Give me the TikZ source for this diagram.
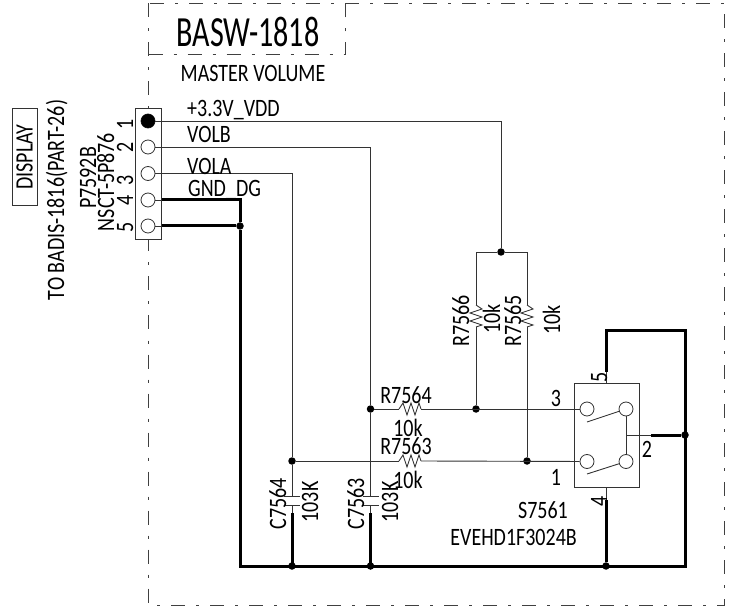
\documentclass[tikz,border=0pt]{standalone}
\usepackage{fontspec}
\setmainfont[FakeStretch=.8]{Carlito}
\newfontfamily\titlefont[FakeStretch=.7]{Carlito}
\usetikzlibrary{positioning}
\tikzset{font=\fontsize{25}{27}\selectfont}
\tikzset{wire/.style={line width=.9pt,black!80}}
\tikzset{bus/.style={line width=3pt,black}}
\tikzset{frame/.style={line width=1pt,black!75,dash pattern=on 14pt off 11pt on 3pt off 11pt}}
\tikzset{pinhole/.style={circle,draw=black!80,line width=.8pt,fill=white,minimum size=14pt,inner sep=0pt}}
\tikzset{dot/.style={circle,fill=black,minimum size=7.5pt,inner sep=0pt}}
\tikzset{lbl/.style={inner sep=0pt,anchor=base}}
\tikzset{vlbl/.style={inner sep=0pt,anchor=base,rotate=90}}
\tikzset{resh/.pic={
  \coordinate (-l) at (-11,0);
  \coordinate (-r) at (11,0);
  \draw[wire] (-11,0) -- (-7,-6) -- (-3,6) -- (1,-6) -- (5,6) -- (9,-6) -- (11,0);
}}
\tikzset{resv/.pic={
  \coordinate (-t) at (0,-11);
  \coordinate (-b) at (0,11);
  \draw[wire] (0,-11) -- (6,-7) -- (-6,-3) -- (6,1) -- (-6,5) -- (6,9) -- (0,11);
}}
\begin{document}
\begin{tikzpicture}[x=1pt,y=-1pt]
  \useasboundingbox (0,0) rectangle (731,612);
  \draw[frame] (148.5,3.5) rectangle (724.7,605);
  \draw[frame] (148.5,55) -- (345,55) -- (345,3.5);
  % connector
  \node[draw=black!80,line width=.9pt,fill=white,minimum width=26pt,minimum height=131pt,inner sep=0pt] (P7592B) at (148.5,173.5) {};
  \foreach \n/\y in {1/121,2/147,3/173.5,4/200,5/226}
    \node[pinhole] (pin\n) at (148,\y) {};
  \node[dot,minimum size=14pt] at (pin1) {};
  % junctions
  \node[dot] (jvdd) at (501,252) {};
  \node[dot] (jgnd) at (240,226) {};
  \node[dot] (jvolb) at (370.5,409) {};
  \node[dot] (jvola) at (292,461) {};
  \node[dot] (jr66) at (476,409) {};
  \node[dot] (jr65) at (527,461) {};
  \node[dot] (jc64) at (292,566) {};
  \node[dot] (jc63) at (370.5,566) {};
  \node[dot] (js4) at (606,566) {};
  \node[dot] (js2) at (685,435) {};
  % resistors
  \pic (r7564) at (410,409) {resh};
  \pic (r7563) at (410,461) {resh};
  \pic (r7566) at (476,316) {resv};
  \pic (r7565) at (527,316) {resv};
  % switch
  \node[draw=black!80,line width=.9pt,minimum width=65pt,minimum height=104pt,inner sep=0pt] (S7561) at (606.5,435) {};
  \node[pinhole] (s3) at (587,409) {};
  \node[pinhole] (s1) at (587,461.5) {};
  \node[pinhole] (sa) at (626,409) {};
  \node[pinhole] (sb) at (626,461.5) {};
  \coordinate (s5t) at (606,372);
  \coordinate (s4b) at (606,500);
  \coordinate (s2m) at (651,435);
  \coordinate (sc) at (626,435);
  % wires
  \draw[wire] (pin1) -- (pin1 -| jvdd) -- (jvdd);
  \draw[wire] (pin2) -- (pin2 -| jvolb) -- (jvolb);
  \draw[wire] (pin3) -- (pin3 -| jvola) -- (jvola);
  \draw[wire] (pin4) -- (pin4 -| P7592B.east);
  \draw[wire] (pin5) -- (pin5 -| P7592B.east);
  \draw[wire] (r7566-t) -- (jvdd -| r7566-t) -- (jvdd) -- (jvdd -| r7565-t) -- (r7565-t);
  \draw[wire] (r7566-b) -- (jr66);
  \draw[wire] (r7565-b) -- (jr65);
  \draw[wire] (jvolb) -- (r7564-l);
  \draw[wire] (r7564-r) -- (s3);
  \draw[wire] (jvola) -- (r7563-l);
  \draw[wire] (r7563-r) -- (s1);
  \draw[wire] (sa) -- (sb);
  \draw[wire] (sc) -- (s2m);
  \draw[wire] (s5t) -- (S7561.north -| s5t);
  \draw[wire] (s4b) -- (S7561.south -| s4b);
  \draw[wire] (587,422) -- (sa);
  \draw[wire] (587,474) -- (sb);
  % capacitors
  \foreach \nm/\x in {c7564/292,c7563/370.5} {
    \coordinate (\nm-t) at (\x,496);
    \coordinate (\nm-b) at (\x,505.5);
    \draw[wire] (\x-8,496) -- (\x+8,496);
    \draw[wire] (\x-8,505.5) -- (\x+8,505.5);
    \draw[wire] (\nm-b) -- (\x,514);
    \draw[bus] (\x,513) -- (\x,566);
  }
  \draw[wire] (jvola) -- (c7564-t);
  \draw[wire] (jvolb) -- (c7563-t);
  % ground
  \draw[bus] (pin4 -| P7592B.east) -- (pin4 -| jgnd) -- (jgnd);
  \draw[bus] (pin5 -| P7592B.east) -- (jgnd);
  \draw[bus] (jgnd) -- (240,566) -- (685,566) -- (685,331) -- (606,331) -- (s5t);
  \draw[bus] (s4b) -- (js4);
  \draw[bus] (s2m) -- (js2);
  % labels
  \node[lbl,font=\titlefont\fontsize{43}{46}\selectfont] (title) at (248,47) {BASW-1818};
  \node[lbl] (master) at (253,82) {MASTER VOLUME};
  \node[lbl,anchor=base west] (lvdd) at (187,117) {+3.3V\_VDD};
  \node[lbl,anchor=base west] (lvolb) at (187,143) {VOLB};
  \node[lbl,anchor=base west] (lvola) at (187,175) {VOLA};
  \node[lbl,anchor=base west] (lgnd) at (188,197) {GND\_DG};
  \foreach \n/\y in {1/124,2/147,3/180,4/200,5/227}
    \node[vlbl] (num\n) at (133,\y) {\n};
  \node[vlbl] (lnsct) at (114,182) {NSCT-5P876};
  \node[vlbl] (lp) at (96,178) {P7592B};
  \node[vlbl] (lto) at (64,200) {TO BADIS-1816(PART-26)};
  \node[vlbl,draw=black!80,line width=.8pt,minimum width=97pt,minimum height=25pt,anchor=center] (ldisplay) at (24.5,157) {DISPLAY};
  \node[vlbl] (lr66) at (469,321) {R7566};
  \node[vlbl] (lr66v) at (500,319) {10k};
  \node[vlbl] (lr65) at (521,321) {R7565};
  \node[vlbl] (lr65v) at (560,320) {10k};
  \node[lbl] (lr64) at (406,403) {R7564};
  \node[lbl] (lr64v) at (408,436) {10k};
  \node[lbl] (lr63) at (406,454) {R7563};
  \node[lbl] (lr63v) at (408,488) {10k};
  \node[vlbl] (lc64) at (286,504) {C7564};
  \node[vlbl] (lc64v) at (318,502) {103K};
  \node[vlbl] (lc63) at (364,504) {C7563};
  \node[vlbl] (lc63v) at (398,502) {103K};
  \node[lbl] (ls3) at (556,406) {3};
  \node[lbl] (ls1) at (556,485) {1};
  \node[vlbl] (ls5) at (607,377) {5};
  \node[vlbl] (ls4) at (607,501) {4};
  \node[lbl] (ls2) at (647,457) {2};
  \node[lbl] (ls) at (543,518) {S7561};
  \node[lbl,anchor=base east] (lpart) at (577,545) {EVEHD1F3024B};
\end{tikzpicture}
\end{document}
